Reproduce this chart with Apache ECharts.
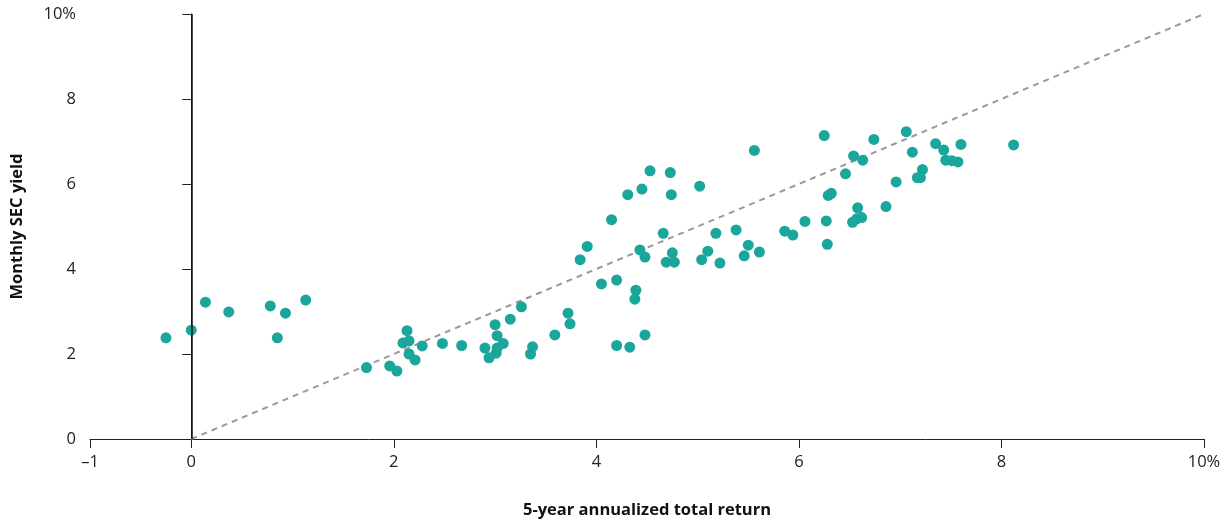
<!DOCTYPE html>
<html>
<head>
<meta charset="utf-8">
<script src="https://cdn.jsdelivr.net/npm/echarts@6/dist/echarts.min.js"></script>
<style>
html,body{margin:0;padding:0;background:#fff;}
#c{width:1227px;height:522px;}
</style>
</head>
<body>
<div id="c"></div>
<script>
var returns = [-0.25,0.00,0.14,0.37,0.78,0.85,0.93,1.13,
  1.73,1.96,2.03,2.13,2.09,2.15,2.15,2.21,2.28,2.48,2.67,2.90,2.94,3.00,3.02,3.01,3.02,3.08,3.15,3.26,3.37,3.35,3.59,3.72,3.74,
  4.53,4.73,4.45,4.31,4.74,5.02,4.15,6.06,4.66,5.18,5.38,5.86,5.94,3.91,3.84,4.43,4.48,4.75,4.69,4.77,5.10,5.04,5.22,5.50,5.46,5.61,
  4.05,4.20,4.39,4.38,4.20,4.33,4.48,
  6.25,5.56,6.74,7.06,7.35,7.43,7.60,8.12,7.12,7.45,7.51,7.57,6.54,6.63,6.46,7.22,7.17,7.20,6.96,6.29,6.32,6.27,6.58,6.53,6.57,6.62,6.86,6.28];
var yields = [2.38,2.56,3.22,2.99,3.13,2.38,2.96,3.27,
  1.68,1.72,1.60,2.55,2.26,2.31,2.00,1.86,2.19,2.25,2.20,2.14,1.91,2.69,2.43,2.02,2.14,2.25,2.82,3.11,2.17,2.00,2.45,2.96,2.71,
  6.31,6.27,5.88,5.75,5.75,5.95,5.16,5.12,4.84,4.84,4.92,4.89,4.80,4.53,4.22,4.45,4.28,4.38,4.16,4.16,4.42,4.22,4.14,4.56,4.31,4.40,
  3.65,3.74,3.50,3.29,2.20,2.16,2.45,
  7.14,6.79,7.05,7.23,6.95,6.80,6.93,6.92,6.75,6.56,6.55,6.52,6.66,6.56,6.24,6.34,6.15,6.15,6.05,5.73,5.78,5.13,5.44,5.10,5.18,5.21,5.47,4.58];
var xTicks = [-1,0,2,4,6,8,10];
var yTicks = [0,2,4,6,8,10];
var refLine = [[0,0],[10,10]];

var points = returns.map(function(x,i){return [x, yields[i]];});
var font = '"Open Sans", Lato, sans-serif';
var chart = echarts.init(document.getElementById('c'));
chart.setOption({
  animation:false,
  grid:{left:90,right:23,top:14,bottom:83,containLabel:false,outerBoundsMode:'none'},
  xAxis:{
    type:'value',min:-1,max:10,
    name:'5-year annualized total return',nameLocation:'middle',nameGap:63,
    nameTextStyle:{fontFamily:font,fontWeight:'bold',fontSize:16.5,color:'#111'},
    axisLine:{show:true,onZero:false,lineStyle:{color:'#222',width:1}},
    axisTick:{show:true,length:9,customValues:xTicks,lineStyle:{color:'#222'}},
    axisLabel:{customValues:xTicks,margin:15,fontFamily:font,fontSize:16.5,color:'#222',
      formatter:function(v){return v===10?'10%':(v<0?'\u2013'+Math.abs(v):String(v));}},
    splitLine:{show:false}
  },
  yAxis:{
    type:'value',min:0,max:10,interval:2,
    name:'Monthly SEC yield',nameLocation:'middle',nameGap:64,
    nameTextStyle:{fontFamily:font,fontWeight:'bold',fontSize:16.5,color:'#111'},
    axisLine:{show:true,lineStyle:{color:'#222',width:1}},
    axisTick:{show:true,length:9,lineStyle:{color:'#222'}},
    axisLabel:{margin:14,fontFamily:font,fontSize:16.5,color:'#222',
      formatter:function(v){return v===10?'10%':String(v);}},
    splitLine:{show:false}
  },
  series:[
    {type:'line',data:refLine,symbol:'none',silent:true,
      lineStyle:{color:'#999',width:2,type:[6,5]},z:1},
    {type:'scatter',data:points,symbolSize:11,
      itemStyle:{color:'#1aa69a',opacity:1},z:3,
      markLine:{silent:true,symbol:'none',label:{show:false},
        lineStyle:{color:'#111',width:1.5,type:'solid'},
        data:[{xAxis:0}]}}
  ]
});
</script>
</body>
</html>
